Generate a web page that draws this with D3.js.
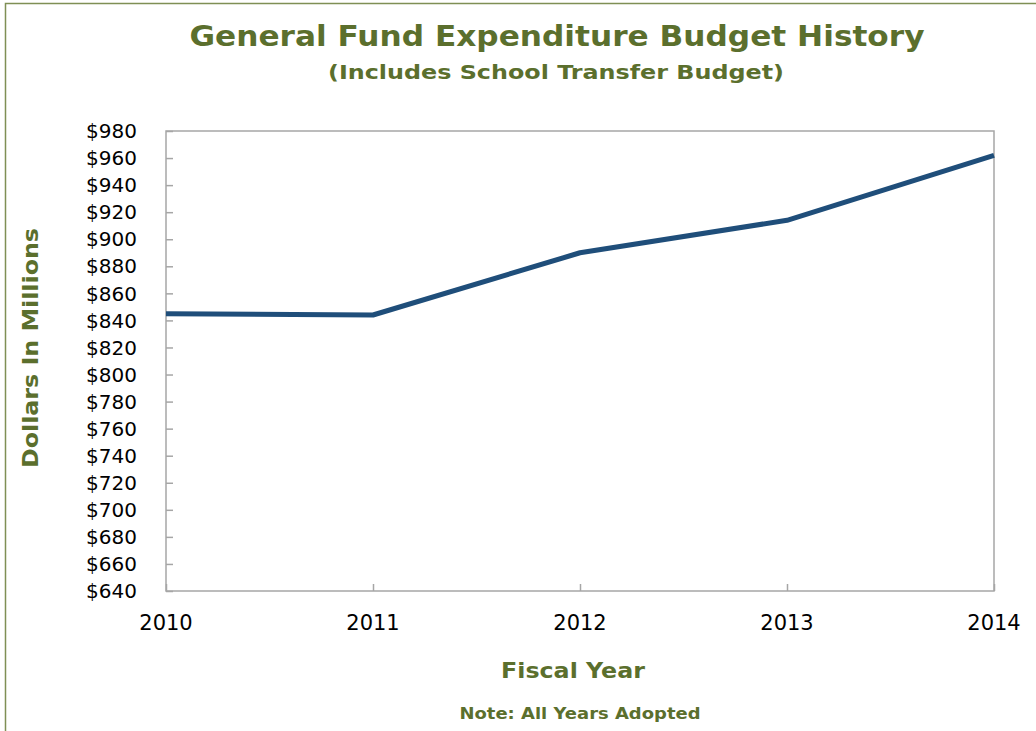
<!DOCTYPE html>
<html>
<head>
<meta charset="utf-8">
<title>General Fund Expenditure Budget History</title>
<script src="https://cdn.jsdelivr.net/npm/d3@7"></script>
<style>
  body { margin: 0; background: #fff; }
  text { font-family: "DejaVu Sans", Verdana, sans-serif; }
</style>
</head>
<body>
<svg id="main" width="1036" height="731"></svg>
<script>
// data
var years = [2010, 2011, 2012, 2013, 2014];
var budget = [845, 844, 890, 914, 962];
var yTicks = [640, 660, 680, 700, 720, 740, 760, 780, 800, 820, 840, 860, 880, 900, 920, 940, 960, 980];

var olive = "#5b6f2d";
var svg = d3.select("#main");

// outer frame
svg.append("rect")
    .attr("x", 5.5).attr("y", 3.5)
    .attr("width", 1040).attr("height", 740)
    .attr("fill", "none")
    .attr("stroke", "#7f8f55")
    .attr("stroke-width", 1.5);

// plot area bounds
var pLeft = 166, pRight = 994, pTop = 131, pBottom = 591;

var x = d3.scalePoint().domain(years).range([pLeft, pRight]);
var y = d3.scaleLinear().domain([640, 980]).range([pBottom, pTop]);

// plot frame
svg.append("rect")
    .attr("x", pLeft).attr("y", pTop)
    .attr("width", pRight - pLeft).attr("height", pBottom - pTop)
    .attr("fill", "none")
    .attr("stroke", "#a6a6a6")
    .attr("stroke-width", 1.5);

// y axis, ticks pointing inward
var yAxis = svg.append("g")
    .attr("transform", "translate(" + pLeft + ",0)")
    .call(d3.axisRight(y).tickValues(yTicks).tickSize(7).tickFormat(""));
yAxis.select(".domain").remove();
yAxis.selectAll("line").attr("stroke", "#a6a6a6").attr("stroke-width", 1.5);

svg.selectAll(".ylab")
    .data(yTicks)
  .enter().append("text")
    .attr("class", "ylab")
    .attr("x", 137)
    .attr("y", function(d) { return y(d); })
    .attr("dy", "0.36em")
    .attr("text-anchor", "end")
    .attr("font-size", 20)
    .attr("fill", "#000")
    .text(function(d) { return "$" + d; });

// x axis, ticks pointing up
var xAxis = svg.append("g")
    .attr("transform", "translate(0," + pBottom + ")")
    .call(d3.axisTop(x).tickSize(7).tickFormat(""));
xAxis.select(".domain").remove();
xAxis.selectAll("line").attr("stroke", "#a6a6a6").attr("stroke-width", 1.5);

svg.selectAll(".xlab")
    .data(years)
  .enter().append("text")
    .attr("class", "xlab")
    .attr("x", function(d) { return x(d); })
    .attr("y", 630)
    .attr("text-anchor", "middle")
    .attr("font-size", 21)
    .attr("fill", "#000")
    .text(function(d) { return d; });

// the line
var line = d3.line()
    .x(function(d, i) { return x(years[i]); })
    .y(function(d) { return y(d); });

svg.append("path")
    .datum(budget)
    .attr("d", line)
    .attr("fill", "none")
    .attr("stroke", "#1f4e7a")
    .attr("stroke-width", 5)
    .attr("stroke-linejoin", "round");

// titles (Verdana is wider than DejaVu, so stretch to the reference widths)
function label(xp, yp, size, len, txt) {
    return svg.append("text")
        .attr("x", xp).attr("y", yp)
        .attr("text-anchor", "middle")
        .attr("font-size", size).attr("font-weight", "bold")
        .attr("fill", olive)
        .attr("textLength", len)
        .attr("lengthAdjust", "spacingAndGlyphs")
        .text(txt);
}

label(557, 46, 29, 735, "General Fund Expenditure Budget History");
label(556, 79, 20, 456, "(Includes School Transfer Budget)");
label(0, 0, 22, 240, "Dollars In Millions")
    .attr("transform", "translate(38,348) rotate(-90)");
label(573, 678, 22, 144, "Fiscal Year");
label(580, 719, 16, 241, "Note: All Years Adopted");
</script>
</body>
</html>
